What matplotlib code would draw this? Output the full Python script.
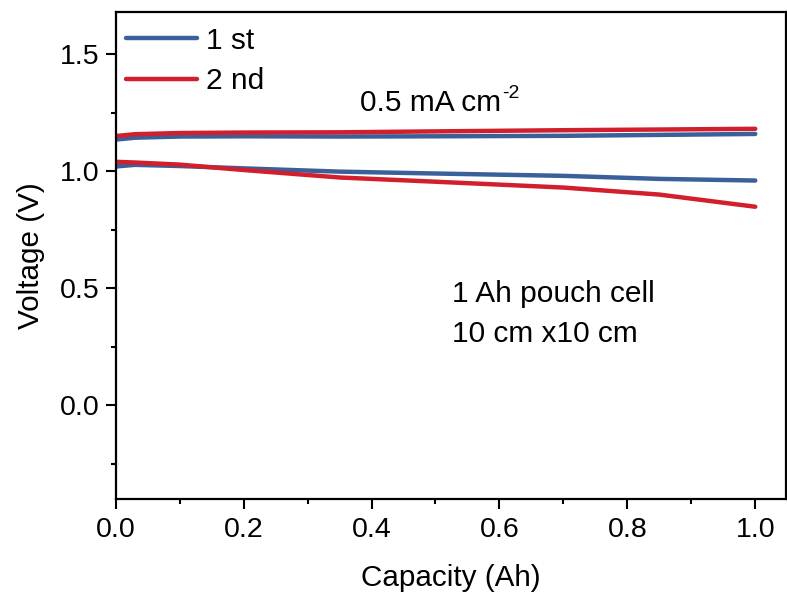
import matplotlib
matplotlib.use("Agg")
import matplotlib.pyplot as plt
from matplotlib.ticker import MultipleLocator, FormatStrFormatter

plt.rcParams['font.family'] = ['Liberation Sans', 'DejaVu Sans']

# Capacity (Ah) sample points
capacity = [0.0, 0.03, 0.1, 0.2, 0.35, 0.5, 0.7, 0.85, 1.0]

# Voltage (V), charge and discharge branches for each cycle
v1_charge = [1.135, 1.143, 1.148, 1.149, 1.148, 1.149, 1.151, 1.155, 1.159]
v1_discharge = [1.020, 1.027, 1.022, 1.012, 0.998, 0.990, 0.980, 0.967, 0.960]
v2_charge = [1.150, 1.158, 1.163, 1.165, 1.166, 1.170, 1.175, 1.178, 1.181]
v2_discharge = [1.040, 1.037, 1.028, 1.005, 0.973, 0.955, 0.930, 0.900, 0.848]

labels = ["1 st", "2 nd"]
blue = "#3b5f99"
red = "#d21f2e"

fig = plt.figure(figsize=(7.87, 6.01), dpi=100)
ax = fig.add_axes([0.147, 0.170, 0.8517, 0.810])

lw = 3.2
ax.plot(capacity, v1_charge, color=blue, lw=lw, label=labels[0], solid_capstyle='round')
ax.plot(capacity, v1_discharge, color=blue, lw=lw, solid_capstyle='round')
ax.plot(capacity, v2_charge, color=red, lw=lw, label=labels[1], solid_capstyle='round')
ax.plot(capacity, v2_discharge, color=red, lw=lw, solid_capstyle='round')

ax.set_xlim(0, 1.048)
ax.set_ylim(-0.4, 1.68)

ax.xaxis.set_major_locator(MultipleLocator(0.2))
ax.xaxis.set_minor_locator(MultipleLocator(0.1))
ax.yaxis.set_major_locator(MultipleLocator(0.5))
ax.yaxis.set_minor_locator(MultipleLocator(0.25))
ax.xaxis.set_major_formatter(FormatStrFormatter('%.1f'))
ax.yaxis.set_major_formatter(FormatStrFormatter('%.1f'))

ax.tick_params(which='major', direction='out', length=7, width=1.5, labelsize=20.5)
ax.tick_params(axis='x', which='major', pad=6)
ax.tick_params(axis='y', which='major', pad=4.5)
ax.tick_params(which='minor', direction='out', length=3.5, width=1.5)
ax.tick_params(top=False, right=False)
for s in ax.spines.values():
    s.set_linewidth(1.6)

ax.set_xlabel("Capacity (Ah)", fontsize=21.3, labelpad=15)
ax.set_ylabel("Voltage (V)", fontsize=21.3, labelpad=11)

ax.legend(loc='upper left', bbox_to_anchor=(0.0154, 0.970), frameon=False, fontsize=21.5,
          handlelength=2.37, handletextpad=0.3, labelspacing=0.42,
          borderaxespad=0.0, borderpad=0.0)

# Current density note with a small superscript exponent
note = ax.text(0.382, 1.292, "0.5 mA cm", fontsize=21.5, ha='left', va='center')
ax.annotate("-2", xy=(1.0, 1.0), xycoords=note, xytext=(1, 3), textcoords='offset points',
            fontsize=14, ha='left', va='top')

ax.text(0.526, 0.475, "1 Ah pouch cell", fontsize=21.5, ha='left', va='center')
ax.text(0.526, 0.304, "10 cm x10 cm", fontsize=21.5, ha='left', va='center')

fig.savefig("out.png", dpi=100)
